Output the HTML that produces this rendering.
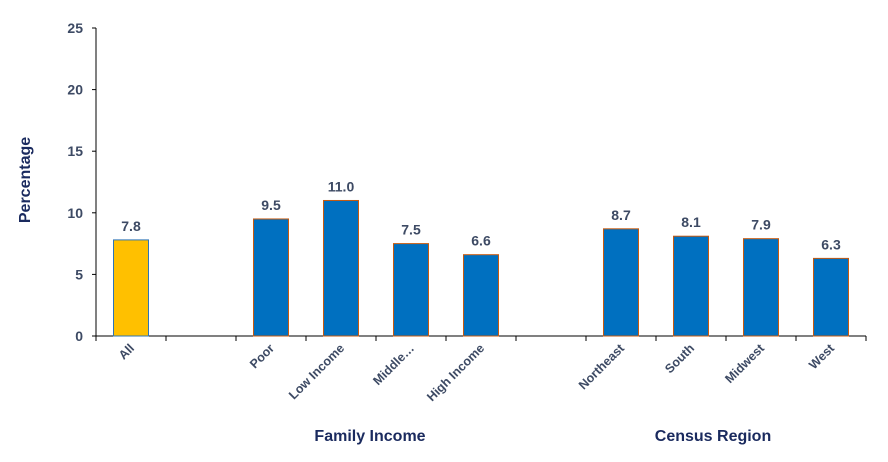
<!DOCTYPE html>
<html><head><meta charset="utf-8"><style>
body{margin:0;background:#fff}
svg text{font-family:"Liberation Sans",Arial,sans-serif;font-weight:bold}
</style></head><body>
<svg width="888" height="457" xmlns="http://www.w3.org/2000/svg">
<g id="g"></g>
</svg>
<script>
const categories=["All","","Poor","Low Income","Middle…","High Income","","Northeast","South","Midwest","West"];
const values=[7.8,null,9.5,11.0,7.5,6.6,null,8.7,8.1,7.9,6.3];
const valueLabels=["7.8","","9.5","11.0","7.5","6.6","","8.7","8.1","7.9","6.3"];
const yTicks=[0,5,10,15,20,25];
const groups=[{name:"Family Income",from:2,to:5},{name:"Census Region",from:7,to:10}];
const NS="http://www.w3.org/2000/svg";
const g=document.getElementById('g');
const x0=96,slot=70,yBase=336,yTop=28,yMax=25;
const y=v=>yBase-(v/yMax)*(yBase-yTop);
const xc=i=>x0+slot*i+slot/2;
function mk(t,a,txt){const e=document.createElementNS(NS,t);for(const k in a)e.setAttribute(k,a[k]);if(txt!==undefined)e.textContent=txt;g.appendChild(e);return e;}
let e=mk('line',{x1:x0,y1:yTop,x2:x0,y2:yBase,stroke:'#000','stroke-width':1});


e=mk('line',{x1:x0,y1:yBase,x2:x0+slot*categories.length,y2:yBase,stroke:'#000','stroke-width':1});


yTicks.forEach(t=>{
 mk('line',{x1:x0-4,y1:y(t),x2:x0,y2:y(t),stroke:'#000'});
 e=mk('text',{x:x0-13,y:y(t)+5,'text-anchor':'end','font-size':14,fill:'#3d4a64'},t);
 
 
});
for(let i=0;i<=categories.length;i++){mk('line',{x1:x0+slot*i,y1:yBase,x2:x0+slot*i,y2:yBase+5,stroke:'#000'});}
categories.forEach((c,i)=>{
 if(values[i]!==null){
  const top=y(values[i]);
  e=mk('rect',{x:xc(i)-17.5,y:top,width:35,height:yBase-top,fill:i===0?'#ffc000':'#0070c0',stroke:i===0?'#2e75b6':'#c55a11','stroke-width':1});
  
  
  e=mk('text',{x:xc(i),y:top-9,'text-anchor':'middle','font-size':14,fill:'#3d4a64'},valueLabels[i]);
  
  
 }
 if(c){
  const lx=xc(i)+4,ly=yBase+13;
  e=mk('text',{x:lx,y:ly,'text-anchor':'end','font-size':12.5,fill:'#3d4a64',transform:`rotate(-45 ${lx} ${ly})`},c);
  
  
 }
});
const groupShift=[-6,-13];
groups.forEach((gr,k)=>{
 const cx=(xc(gr.from)+xc(gr.to))/2+groupShift[k];
 e=mk('text',{x:cx,y:441,'text-anchor':'middle','font-size':16,fill:'#1a2a5e'},gr.name);
 
 
});
e=mk('text',{x:30,y:180,'text-anchor':'middle','font-size':16,fill:'#1a2a5e',transform:'rotate(-90 30 180)'},'Percentage');


</script>
</body></html>
